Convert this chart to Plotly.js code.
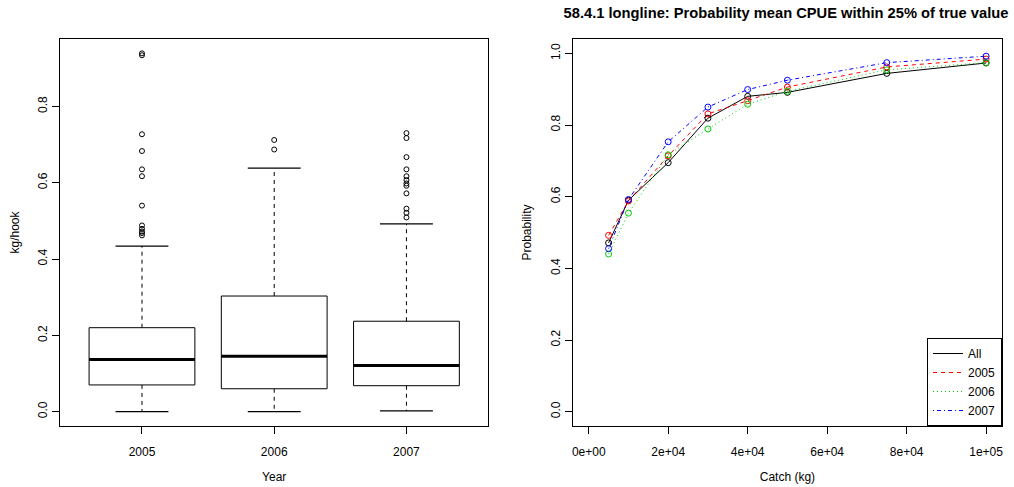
<!DOCTYPE html>
<html>
<head>
<meta charset="utf-8">
<script src="https://cdn.plot.ly/plotly-3.0.1.min.js"></script>
<style>html,body{margin:0;padding:0;background:#fff;}#chart{width:1014px;height:487px;}</style>
</head>
<body>
<div id="chart"></div>
<script>
// ---- Left panel: boxplot of kg/hook by year ----
const years = ["2005", "2006", "2007"];
const boxLower = [0.000, 0.000, 0.002];
const boxQ1 = [0.070, 0.060, 0.068];
const boxMedian = [0.137, 0.145, 0.121];
const boxQ3 = [0.220, 0.303, 0.237];
const boxUpper = [0.434, 0.638, 0.492];
const outliers2005 = [0.939, 0.934, 0.727, 0.683, 0.635, 0.617, 0.540, 0.488, 0.479, 0.472, 0.468, 0.462];
const outliers2006 = [0.712, 0.687];
const outliers2007 = [0.730, 0.717, 0.667, 0.635, 0.617, 0.607, 0.598, 0.592, 0.572, 0.532, 0.521, 0.509];
const outliers = [outliers2005, outliers2006, outliers2007];

// ---- Right panel: probability curves ----
const catchKg = [5000, 10000, 20000, 30000, 40000, 50000, 75000, 100000];
const probAll = [0.471, 0.590, 0.695, 0.819, 0.880, 0.891, 0.944, 0.973];
const prob2005 = [0.492, 0.588, 0.714, 0.831, 0.868, 0.906, 0.962, 0.984];
const prob2006 = [0.440, 0.554, 0.717, 0.789, 0.858, 0.894, 0.954, 0.974];
const prob2007 = [0.455, 0.592, 0.753, 0.850, 0.899, 0.925, 0.974, 0.992];
const seriesNames = ["All", "2005", "2006", "2007"];
const seriesValues = [probAll, prob2005, prob2006, prob2007];
const xTickVals = [0, 20000, 40000, 60000, 80000, 100000];
const xTickText = ["0e+00", "2e+04", "4e+04", "6e+04", "8e+04", "1e+05"];
const yTickVals = [0, 0.2, 0.4, 0.6, 0.8, 1.0];
const yTickText = ["0.0", "0.2", "0.4", "0.6", "0.8", "1.0"];
const leftYTickVals = [0, 0.2, 0.4, 0.6, 0.8];
const leftYTickText = ["0.0", "0.2", "0.4", "0.6", "0.8"];

const seriesColors = ["#000000", "#FF0000", "#00CD00", "#0000FF"];
const seriesDash = ["solid", "4px,4px", "1px,3px", "1px,3px,4px,3px"];

const BW = 0.4, SW = 0.2;
const traces = [];
const boxX = [], boxY = [], medX = [], medY = [], whX = [], whY = [], stX = [], stY = [], oX = [], oY = [];
years.forEach((yr, i) => {
  const c = i + 1;
  boxX.push(c - BW, c + BW, c + BW, c - BW, c - BW, null);
  boxY.push(boxQ1[i], boxQ1[i], boxQ3[i], boxQ3[i], boxQ1[i], null);
  medX.push(c - BW, c + BW, null);
  medY.push(boxMedian[i], boxMedian[i], null);
  whX.push(c, c, null, c, c, null);
  whY.push(boxQ3[i], boxUpper[i], null, boxQ1[i], boxLower[i], null);
  stX.push(c - SW, c + SW, null, c - SW, c + SW, null);
  stY.push(boxUpper[i], boxUpper[i], null, boxLower[i], boxLower[i], null);
  outliers[i].forEach(v => { oX.push(c); oY.push(v); });
});
const common = {xaxis: 'x', yaxis: 'y', showlegend: false, hoverinfo: 'skip'};
traces.push(Object.assign({type: 'scatter', mode: 'lines', x: whX, y: whY, line: {color: '#000', width: 1, dash: '4px,4px'}}, common));
traces.push(Object.assign({type: 'scatter', mode: 'lines', x: boxX, y: boxY, line: {color: '#000', width: 1}}, common));
traces.push(Object.assign({type: 'scatter', mode: 'lines', x: medX, y: medY, line: {color: '#000', width: 3}}, common));
traces.push(Object.assign({type: 'scatter', mode: 'lines', x: stX, y: stY, line: {color: '#000', width: 1.3}}, common));
traces.push(Object.assign({type: 'scatter', mode: 'markers', x: oX, y: oY, marker: {symbol: 'circle-open', size: 5, color: '#000', line: {width: 1}}}, common));

seriesNames.forEach((nm, i) => {
  traces.push({type: 'scatter', mode: 'lines', name: nm, x: catchKg, y: seriesValues[i], xaxis: 'x2', yaxis: 'y2',
    line: {color: seriesColors[i], width: 1, dash: seriesDash[i]}, hoverinfo: 'skip'});
});
seriesNames.forEach((nm, i) => {
  traces.push({type: 'scatter', mode: 'markers', x: catchKg, y: seriesValues[i], xaxis: 'x2', yaxis: 'y2', showlegend: false,
    marker: {symbol: 'circle-open', size: 6, color: seriesColors[i], line: {width: 1}}, hoverinfo: 'skip'});
});

const FONT = 'Liberation Sans, Arial, Helvetica, sans-serif';
const axisBase = {showline: true, mirror: true, linecolor: '#000', linewidth: 1, ticks: 'outside', ticklen: 7, tickcolor: '#000',
  showgrid: false, zeroline: false, tickfont: {family: FONT, size: 12, color: '#000'}, fixedrange: true};

const layout = {
  width: 1014, height: 487,
  margin: {l: 60, r: 12, t: 39, b: 61},
  paper_bgcolor: '#fff', plot_bgcolor: '#fff',
  font: {family: FONT, size: 12, color: '#000'},
  showlegend: true,
  hovermode: false,
  title: {text: '<b>58.4.1 longline: Probability mean CPUE within 25% of true value</b>', font: {family: FONT, size: 14.7, color: '#000'},
    x: 786 / 1014, xref: 'container', xanchor: 'center', y: 1 - 13 / 487, yref: 'container', yanchor: 'middle'},
  xaxis: Object.assign({}, axisBase, {domain: [0, 0.4548], range: [0.38, 3.62], tickmode: 'array', tickvals: [1, 2, 3], ticktext: years,
    ticklabelstandoff: 8, title: {text: 'Year', font: {family: FONT, size: 12}, standoff: 14}}),
  yaxis: Object.assign({}, axisBase, {domain: [0, 1], range: [-0.0376, 0.9766], tickmode: 'array', tickvals: leftYTickVals, ticktext: leftYTickText,
    tickangle: -90, title: {text: 'kg/hook', font: {family: FONT, size: 12}, standoff: 14}}),
  xaxis2: Object.assign({}, axisBase, {domain: [0.5444, 1], range: [-4000, 104000], tickmode: 'array', tickvals: xTickVals, ticktext: xTickText,
    ticklabelstandoff: 8, anchor: 'y2', title: {text: 'Catch (kg)', font: {family: FONT, size: 12}, standoff: 14}}),
  yaxis2: Object.assign({}, axisBase, {domain: [0, 1], range: [-0.04, 1.04], tickmode: 'array', tickvals: yTickVals, ticktext: yTickText,
    tickangle: -90, anchor: 'x2', title: {text: 'Probability', font: {family: FONT, size: 12}, standoff: 14}}),
  legend: {x: 1, xanchor: 'right', y: 0, yanchor: 'bottom', bordercolor: '#000', borderwidth: 1, bgcolor: '#fff',
    font: {family: FONT, size: 12, color: '#000'}, tracegroupgap: 0, itemwidth: 30}
};

Plotly.newPlot('chart', traces, layout, {displayModeBar: false, staticPlot: true});
</script>
</body>
</html>
